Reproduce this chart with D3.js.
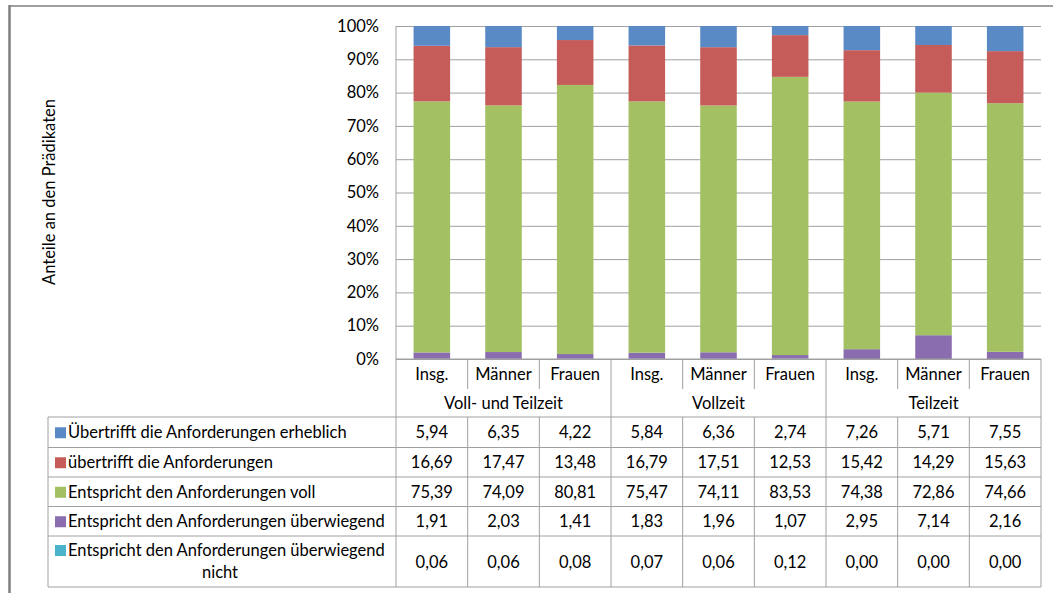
<!DOCTYPE html>
<html lang="de">
  <head>
    <meta charset="UTF-8" />
    <title>Anteile an den Prädikaten</title>
    <script src="https://d3js.org/d3.v7.min.js"></script>
    <style>
      body { margin: 0; background: #fff; }
      svg text { font-family: Lato, "Open Sans", sans-serif; fill: #000; }
    </style>
  </head>
  <body>
    <div id="chart"></div>
    <script>
      // Daten
      var categories = ["Insg.", "Männer", "Frauen", "Insg.", "Männer", "Frauen", "Insg.", "Männer", "Frauen"];
      var groups = ["Voll- und Teilzeit", "Vollzeit", "Teilzeit"];
      var seriesNames = [
        "Übertrifft die Anforderungen erheblich",
        "übertrifft die Anforderungen",
        "Entspricht den Anforderungen voll",
        "Entspricht den Anforderungen überwiegend",
        "Entspricht den Anforderungen überwiegend nicht"
      ];
      var erheblich = [5.94, 6.35, 4.22, 5.84, 6.36, 2.74, 7.26, 5.71, 7.55];
      var uebertrifft = [16.69, 17.47, 13.48, 16.79, 17.51, 12.53, 15.42, 14.29, 15.63];
      var voll = [75.39, 74.09, 80.81, 75.47, 74.11, 83.53, 74.38, 72.86, 74.66];
      var ueberwiegend = [1.91, 2.03, 1.41, 1.83, 1.96, 1.07, 2.95, 7.14, 2.16];
      var nicht = [0.06, 0.06, 0.08, 0.07, 0.06, 0.12, 0.0, 0.0, 0.0];
      var seriesValues = [erheblich, uebertrifft, voll, ueberwiegend, nicht];
      var colors = ["#5a8ac6", "#c65c5a", "#a3c163", "#8a6daf", "#4cb3cd"];

      var W = 1053, H = 593;
      var plotLeft = 396, plotRight = 1041, plotTop = 26, plotBottom = 359;
      var tableLeft = 48;
      var rowTops = [417, 447.5, 477, 506.5, 536, 587]; // zeilengrenzen der tabelle
      var gridCol = "#a0a0a0";
      var fs = 16.5;

      var svg = d3.select("#chart").append("svg")
        .attr("width", W)
        .attr("height", H);

      // rahmen (links und oben)
      svg.append("line").attr("x1", 9.5).attr("x2", 9.5).attr("y1", 5).attr("y2", H)
        .attr("stroke", "#7f7f7f").attr("stroke-width", 2.5);
      svg.append("line").attr("x1", 9).attr("x2", W).attr("y1", 6).attr("y2", 6)
        .attr("stroke", "#7f7f7f").attr("stroke-width", 1.5);

      var x = d3.scaleBand().domain(d3.range(categories.length)).range([plotLeft, plotRight]);
      var y = d3.scaleLinear().domain([0, 1]).range([plotBottom, plotTop]);

      // gitternetz
      svg.append("g")
        .attr("transform", "translate(" + plotLeft + ",0)")
        .call(d3.axisLeft(y).ticks(10).tickSize(-(plotRight - plotLeft)).tickFormat(""))
        .call(g => g.select(".domain").remove())
        .selectAll("line").attr("stroke", gridCol);

      // y-achse beschriftung
      svg.append("g")
        .attr("transform", "translate(" + (plotLeft - 14) + ",0)")
        .call(d3.axisLeft(y).ticks(10).tickSize(0).tickFormat(d3.format(".0%")))
        .call(g => g.select(".domain").remove())
        .selectAll("text")
        .attr("font-size", fs)
        .attr("font-family", "Lato, sans-serif")
        .attr("fill", "#000");

      svg.append("line").attr("x1", plotLeft).attr("x2", plotLeft).attr("y1", plotTop).attr("y2", plotBottom)
        .attr("stroke", gridCol);

      svg.append("text")
        .attr("transform", "translate(55,192) rotate(-90)")
        .attr("text-anchor", "middle")
        .attr("font-size", fs)
        .text("Anteile an den Prädikaten");

      // 100% gestapelt
      var rows = categories.map(function (c, i) {
        var r = { i: i };
        seriesNames.forEach(function (s, k) { r[k] = seriesValues[k][i]; });
        return r;
      });
      var stack = d3.stack()
        .keys([4, 3, 2, 1, 0])
        .offset(d3.stackOffsetExpand);
      var stacked = stack(rows);

      var barW = x.bandwidth() * 0.51;
      svg.append("g").selectAll("g")
        .data(stacked)
        .enter().append("g")
        .attr("fill", d => colors[d.key])
        .selectAll("rect")
        .data(d => d)
        .enter().append("rect")
        .attr("x", d => x(d.data.i) + (x.bandwidth() - barW) / 2)
        .attr("width", barW)
        .attr("y", d => y(d[1]))
        .attr("height", d => y(d[0]) - y(d[1]));

      // x-achse / tabelle
      var t = svg.append("g").attr("stroke", gridCol).attr("stroke-width", 1);
      t.append("line").attr("x1", plotLeft).attr("x2", plotRight).attr("y1", plotBottom).attr("y2", plotBottom);
      rowTops.forEach(function (ry) {
        t.append("line").attr("x1", tableLeft).attr("x2", plotRight).attr("y1", ry).attr("y2", ry);
      });
      t.append("line").attr("x1", tableLeft).attr("x2", tableLeft).attr("y1", rowTops[0]).attr("y2", rowTops[5]);
      d3.range(categories.length + 1).forEach(function (i) {
        var xx = i < categories.length ? x(i) : plotRight;
        if (i % 3 === 0) {
          t.append("line").attr("x1", xx).attr("x2", xx).attr("y1", plotBottom).attr("y2", rowTops[5]);
        } else {
          t.append("line").attr("x1", xx).attr("x2", xx).attr("y1", plotBottom).attr("y2", 389);
          t.append("line").attr("x1", xx).attr("x2", xx).attr("y1", rowTops[0]).attr("y2", rowTops[5]);
        }
      });

      svg.append("g").selectAll("text")
        .data(categories)
        .enter().append("text")
        .attr("x", (d, i) => x(i) + x.bandwidth() / 2)
        .attr("y", 380)
        .attr("text-anchor", "middle")
        .attr("font-size", fs)
        .text(d => d);

      svg.append("g").selectAll("text")
        .data(groups)
        .enter().append("text")
        .attr("x", (d, i) => (x(i * 3) + (i * 3 + 3 < categories.length ? x(i * 3 + 3) : plotRight)) / 2)
        .attr("y", 409)
        .attr("text-anchor", "middle")
        .attr("font-size", fs)
        .text(d => d);

      // legende + werte
      var fmt = v => v.toFixed(2).replace(".", ",");
      seriesNames.forEach(function (s, k) {
        var y0 = rowTops[k], y1 = rowTops[k + 1];
        var cy = (y0 + y1) / 2;
        var last = k === seriesNames.length - 1;
        var ky = last ? y0 + 9 : cy - 5;
        svg.append("rect").attr("x", 55).attr("y", ky).attr("width", 11).attr("height", 11)
          .attr("fill", colors[k]);
        if (last) {
          svg.append("text").attr("x", 68).attr("y", y0 + 20).attr("font-size", fs)
            .text("Entspricht den Anforderungen überwiegend");
          svg.append("text").attr("x", 220).attr("y", y0 + 42).attr("font-size", fs)
            .attr("text-anchor", "middle").text("nicht");
        } else {
          svg.append("text").attr("x", 68).attr("y", cy + 6).attr("font-size", fs).text(s);
        }
        svg.append("g").selectAll("text")
          .data(seriesValues[k])
          .enter().append("text")
          .attr("x", (d, i) => x(i) + x.bandwidth() / 2)
          .attr("y", cy + 6)
          .attr("text-anchor", "middle")
          .attr("font-size", fs)
          .text(d => fmt(d));
      });
    </script>
  </body>
</html>
